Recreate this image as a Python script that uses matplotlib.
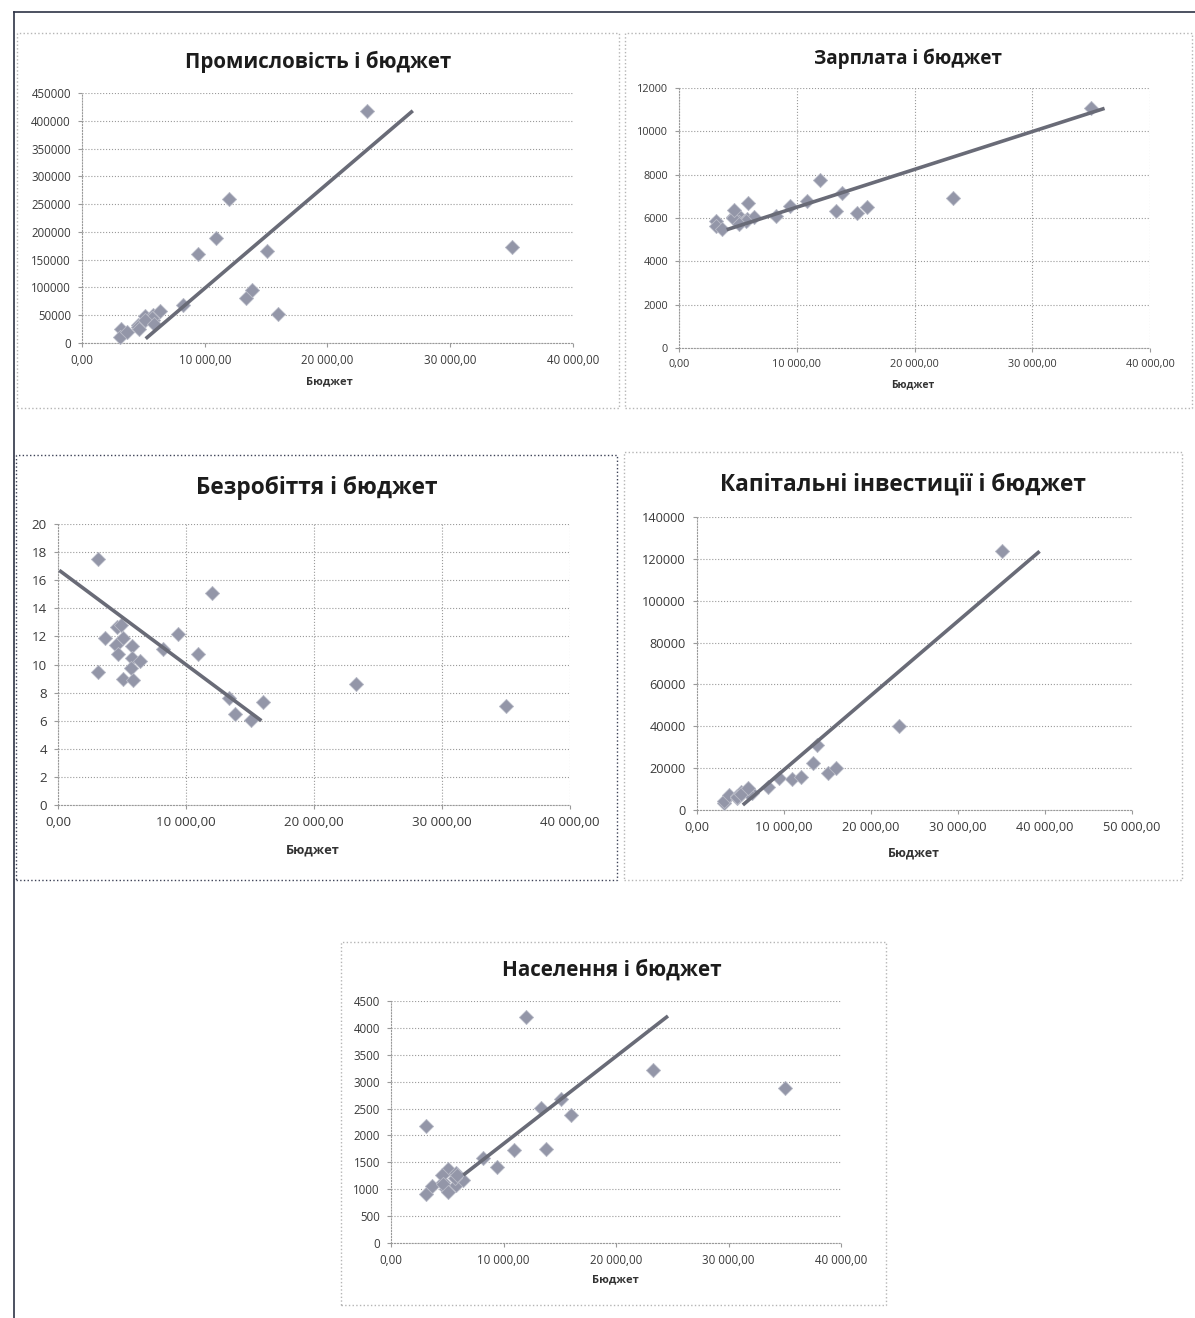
import numpy as np
import matplotlib.pyplot as plt
from matplotlib.patches import Rectangle
from matplotlib.lines import Line2D
from matplotlib.ticker import FuncFormatter, MultipleLocator

plt.rcParams['font.family'] = ['Open Sans', 'DejaVu Sans']

# дані по регіонах: бюджет та показники
budget = [3150, 3120, 3660, 4600, 4900, 5100, 4560, 5770, 9410, 8200, 10900, 4650,
          5770, 6370, 5710, 5100, 5830, 12000, 13330, 13810, 15080, 15980, 23250, 35000]
industry = [25900, 10800, 19800, 31900, 36000, 48000, 28000, 50000, 160000, 69200, 188300, 25900,
            40900, 57800, 45000, 42000, 35000, 259300, 81200, 96000, 166000, 53000, 417000, 172000]
salary = [5870, 5620, 5510, 6050, 6200, 5810, 5990, 5910, 6540, 6110, 6800, 6350,
          5950, 6040, 5850, 5700, 6700, 7740, 6340, 7170, 6220, 6530, 6900, 11090]
unemployment = [17.48, 9.44, 11.86, 12.69, 12.80, 11.86, 11.39, 11.34, 12.15, 11.08, 10.72, 10.72,
                10.49, 10.27, 9.73, 8.94, 8.90, 15.06, 7.59, 6.45, 6.05, 7.31, 8.59, 7.07]
investment = [3200, 4500, 7150, 5570, 7150, 8750, 6500, 9500, 15100, 11100, 14800, 6000,
              9000, 8000, 8500, 7500, 10300, 15600, 22300, 30900, 17800, 20200, 40100, 123800]
population = [2184, 906, 1055, 1135, 1011, 1383, 1259, 1073, 1414, 1588, 1737, 1100,
              1300, 1166, 1200, 949, 1259, 4207, 2512, 1743, 2686, 2388, 3226, 2885]

# кінці ліній тренду
trend_industry_x = [5190, 26950]
trend_industry_y = [7800, 418000]
trend_salary_x = [4050, 36140]
trend_salary_y = [5460, 11060]
trend_unemp_x = [100, 15890]
trend_unemp_y = [16.7, 6.0]
trend_invest_x = [5270, 39380]
trend_invest_y = [2400, 123600]
trend_pop_x = [6430, 24620]
trend_pop_y = [1264, 4221]

W, H = 1195, 1318
fig = plt.figure(figsize=(W / 100, H / 100), dpi=100)


def px_axes(l, t, r, b):
    return fig.add_axes([l / W, 1 - b / H, (r - l) / W, (b - t) / H])


def box(l, t, r, b, color):
    fig.add_artist(Rectangle((l / W, 1 - b / H), (r - l) / W, (b - t) / H,
                             transform=fig.transFigure, fill=False, ls=':', lw=1.0, ec=color))


def budget_fmt(v, pos):
    return f"{v:,.2f}".replace(",", " ").replace(".", ",")


def panel(frame, area, y, tx, ty, title, title_pos, title_size, label_pos,
          xmax, ymax, ystep, vgrid, tick_size, frame_color='#b5b5b5'):
    box(*frame, frame_color)
    ax = px_axes(*area)
    ax.set_xlim(0, xmax)
    ax.set_ylim(0, ymax)
    ax.xaxis.set_major_locator(MultipleLocator(10000))
    ax.yaxis.set_major_locator(MultipleLocator(ystep))
    ax.xaxis.set_major_formatter(FuncFormatter(budget_fmt))
    ax.yaxis.set_major_formatter(FuncFormatter(lambda v, p: f"{v:.0f}"))
    ax.grid(axis='y', ls=':', color='#9a9a9a', lw=0.8)
    if vgrid:
        ax.grid(axis='x', ls=':', color='#9a9a9a', lw=0.8)
    ax.set_axisbelow(True)
    for s in ['top', 'right']:
        ax.spines[s].set_visible(False)
    for s in ['left', 'bottom']:
        ax.spines[s].set_linestyle(':')
        ax.spines[s].set_color('#9a9a9a')
        ax.spines[s].set_linewidth(0.8)
    ax.tick_params(length=3, color='#9a9a9a', labelcolor='#3a3a3a', labelsize=tick_size, pad=5)
    ax.scatter(budget, y, marker='D', s=52, color='#9396a8', edgecolor='#b8bac6', lw=0.6, zorder=3, clip_on=False)
    ax.plot(tx, ty, color='#696b77', lw=2.6, zorder=4, solid_capstyle='butt')
    fig.text(title_pos[0] / W, 1 - title_pos[1] / H, title, ha='center', va='center',
             fontsize=title_size, fontweight='bold', color='#1c1c1c')
    fig.text(label_pos[0] / W, 1 - label_pos[1] / H, 'Бюджет', ha='center', va='center',
             fontsize=tick_size - 0.3, fontweight='bold', color='#333333')
    return ax


panel((17, 33, 619, 408), (82, 93, 573, 343), industry, trend_industry_x, trend_industry_y,
      'Промисловість і бюджет', (318, 62), 14.8, (329, 382), 40000, 450000, 50000, False, 8.3)
panel((625, 33, 1192, 408), (679, 88, 1150, 348), salary, trend_salary_x, trend_salary_y,
      'Зарплата і бюджет', (908, 59), 13.6, (913, 385), 40000, 12000, 2000, True, 7.8)
panel((16, 455, 617, 880), (58, 524, 570, 805), unemployment, trend_unemp_x, trend_unemp_y,
      'Безробіття і бюджет', (317, 488), 16.3, (313, 850), 40000, 20, 2, True, 9.6,
      frame_color='#3c4156')
panel((624, 452, 1182, 880), (697, 517, 1132, 810), investment, trend_invest_x, trend_invest_y,
      'Капітальні інвестиції і бюджет', (903, 485), 16.3, (914, 853), 50000, 140000, 20000, False, 9.2)
panel((341, 942, 886, 1305), (391, 1001, 841, 1243), population, trend_pop_x, trend_pop_y,
      'Населення і бюджет', (612, 970), 14.9, (615, 1280), 40000, 4500, 500, False, 8.3)

# рамка сторінки
fig.add_artist(Line2D([14 / W, 14 / W], [0, 1 - 12 / H], transform=fig.transFigure, color='#2e3346', lw=1.2))
fig.add_artist(Line2D([14 / W, 1], [1 - 12 / H, 1 - 12 / H], transform=fig.transFigure, color='#2e3346', lw=1.2))

fig.savefig('out.png', dpi=100, facecolor='white')
